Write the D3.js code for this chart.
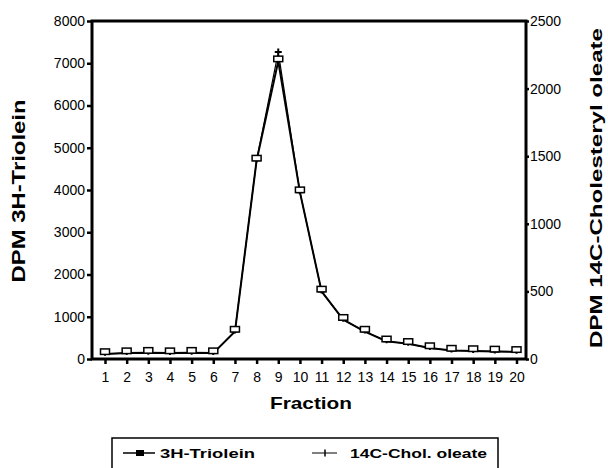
<!DOCTYPE html>
<html>
<head>
<meta charset="utf-8">
<script src="https://cdn.jsdelivr.net/npm/d3@7"></script>
<style>
  body { margin: 0; background: #fff; }
  svg { display: block; }
  text { font-family: "Liberation Sans", Arial, Helvetica, sans-serif; fill: #000; }
</style>
</head>
<body>
<div id="chart"></div>
<script>
// fractions collected from the gradient
const fractions = d3.range(1, 21);
// DPM
const triolein = [120, 140, 150, 140, 150, 140, 650, 4700, 7050, 3950,
                  1600, 930, 650, 420, 360, 260, 200, 190, 180, 170];
const cholOleate = [38, 44, 47, 44, 47, 44, 203, 1470, 2270, 1234,
                    500, 290, 203, 131, 113, 81, 63, 59, 56, 53];
const leftTicks = [0, 1000, 2000, 3000, 4000, 5000, 6000, 7000, 8000];
const rightTicks = [0, 500, 1000, 1500, 2000, 2500];

const w = 608, h = 468;
const plotL = 92, plotR = 526, plotT = 21, plotB = 359;

const svg = d3.select('#chart').append('svg')
  .attr('width', w)
  .attr('height', h);

const x = d3.scaleLinear().domain([1, 20]).range([105, 516.5]);
const yL = d3.scaleLinear().domain([0, 8000]).range([plotB, plotT]);
const yR = d3.scaleLinear().domain([0, 2500]).range([plotB, plotT]);

// axes
const axL = svg.append('g')
  .attr('transform', `translate(${plotL},0)`)
  .call(d3.axisLeft(yL).tickValues(leftTicks).tickSize(5).tickPadding(2).tickFormat(d3.format('d')));
const axR = svg.append('g')
  .attr('transform', `translate(${plotR},0)`)
  .call(d3.axisRight(yR).tickValues(rightTicks).tickSize(3).tickPadding(1).tickFormat(d3.format('d')));
const axB = svg.append('g')
  .attr('transform', `translate(0,${plotB})`)
  .call(d3.axisBottom(x).tickValues(fractions).tickSize(5).tickPadding(8));

[axL, axR, axB].forEach(a => {
  a.select('.domain').remove();
  a.selectAll('line').attr('stroke', '#000').attr('stroke-width', 2.5);
  a.selectAll('text').attr('font-size', '14px').attr('fill', '#000')
    .attr('font-family', '"Liberation Sans", Arial, sans-serif');
});

// frame
svg.append('rect')
  .attr('x', plotL).attr('y', plotT)
  .attr('width', plotR - plotL).attr('height', plotB - plotT)
  .attr('fill', 'none').attr('stroke', '#000').attr('stroke-width', 3);

// 14C series (mostly hidden under the 3H curve)
const lineR = d3.line().x((d, i) => x(fractions[i])).y(d => yR(d));
svg.append('path')
  .attr('d', lineR(cholOleate))
  .attr('fill', 'none').attr('stroke', '#000').attr('stroke-width', 1.2);
svg.selectAll('.plus')
  .data(cholOleate)
  .enter()
  .append('path')
  .attr('class', 'plus')
  .attr('d', (d, i) => {
    const cx = x(fractions[i]), cy = yR(d);
    return `M${cx - 3.5},${cy}H${cx + 3.5}M${cx},${cy - 3.5}V${cy + 2}`;
  })
  .attr('stroke', '#000').attr('stroke-width', 2);

// 3H series
const lineL = d3.line().x((d, i) => x(fractions[i])).y(d => yL(d));
svg.append('path')
  .attr('d', lineL(triolein))
  .attr('fill', 'none').attr('stroke', '#000').attr('stroke-width', 2)
  .attr('stroke-linejoin', 'round');
svg.selectAll('.sq')
  .data(triolein)
  .enter()
  .append('rect')
  .attr('class', 'sq')
  .attr('x', (d, i) => x(fractions[i]) - 4.5)
  .attr('y', d => yL(d) - 5)
  .attr('width', 9).attr('height', 5.5)
  .attr('fill', '#fff').attr('stroke', '#000').attr('stroke-width', 1.5);

// titles
svg.append('text')
  .attr('transform', 'translate(25,191) rotate(-90)')
  .attr('text-anchor', 'middle')
  .attr('font-size', '18px').attr('font-weight', 'bold')
  .attr('textLength', 183).attr('lengthAdjust', 'spacingAndGlyphs')
  .text('DPM 3H-Triolein');
svg.append('text')
  .attr('transform', 'translate(602,188) rotate(-90)')
  .attr('text-anchor', 'middle')
  .attr('font-size', '17px').attr('font-weight', 'bold')
  .attr('textLength', 320).attr('lengthAdjust', 'spacingAndGlyphs')
  .text('DPM 14C-Cholesteryl oleate');
svg.append('text')
  .attr('x', 311).attr('y', 409)
  .attr('text-anchor', 'middle')
  .attr('font-size', '17px').attr('font-weight', 'bold')
  .attr('textLength', 82).attr('lengthAdjust', 'spacingAndGlyphs')
  .text('Fraction');

// legend
const legend = svg.append('g');
legend.append('rect')
  .attr('x', 112).attr('y', 438).attr('width', 386).attr('height', 40)
  .attr('fill', 'none').attr('stroke', '#000').attr('stroke-width', 1.5);
legend.append('line').attr('x1', 123).attr('x2', 155).attr('y1', 453).attr('y2', 453)
  .attr('stroke', '#000').attr('stroke-width', 1.5);
legend.append('rect').attr('x', 136).attr('y', 450).attr('width', 8).attr('height', 6).attr('fill', '#000');
legend.append('text').attr('x', 160).attr('y', 457.5)
  .attr('font-size', '13px').attr('font-weight', 'bold')
  .attr('textLength', 95).attr('lengthAdjust', 'spacingAndGlyphs')
  .text('3H-Triolein');
legend.append('line').attr('x1', 312).attr('x2', 337).attr('y1', 453).attr('y2', 453)
  .attr('stroke', '#000').attr('stroke-width', 1);
legend.append('path').attr('d', 'M325,449.5V456.5')
  .attr('stroke', '#000').attr('stroke-width', 1.5);
legend.append('text').attr('x', 350).attr('y', 457.5)
  .attr('font-size', '13px').attr('font-weight', 'bold')
  .attr('textLength', 137).attr('lengthAdjust', 'spacingAndGlyphs')
  .text('14C-Chol. oleate');
</script>
</body>
</html>
